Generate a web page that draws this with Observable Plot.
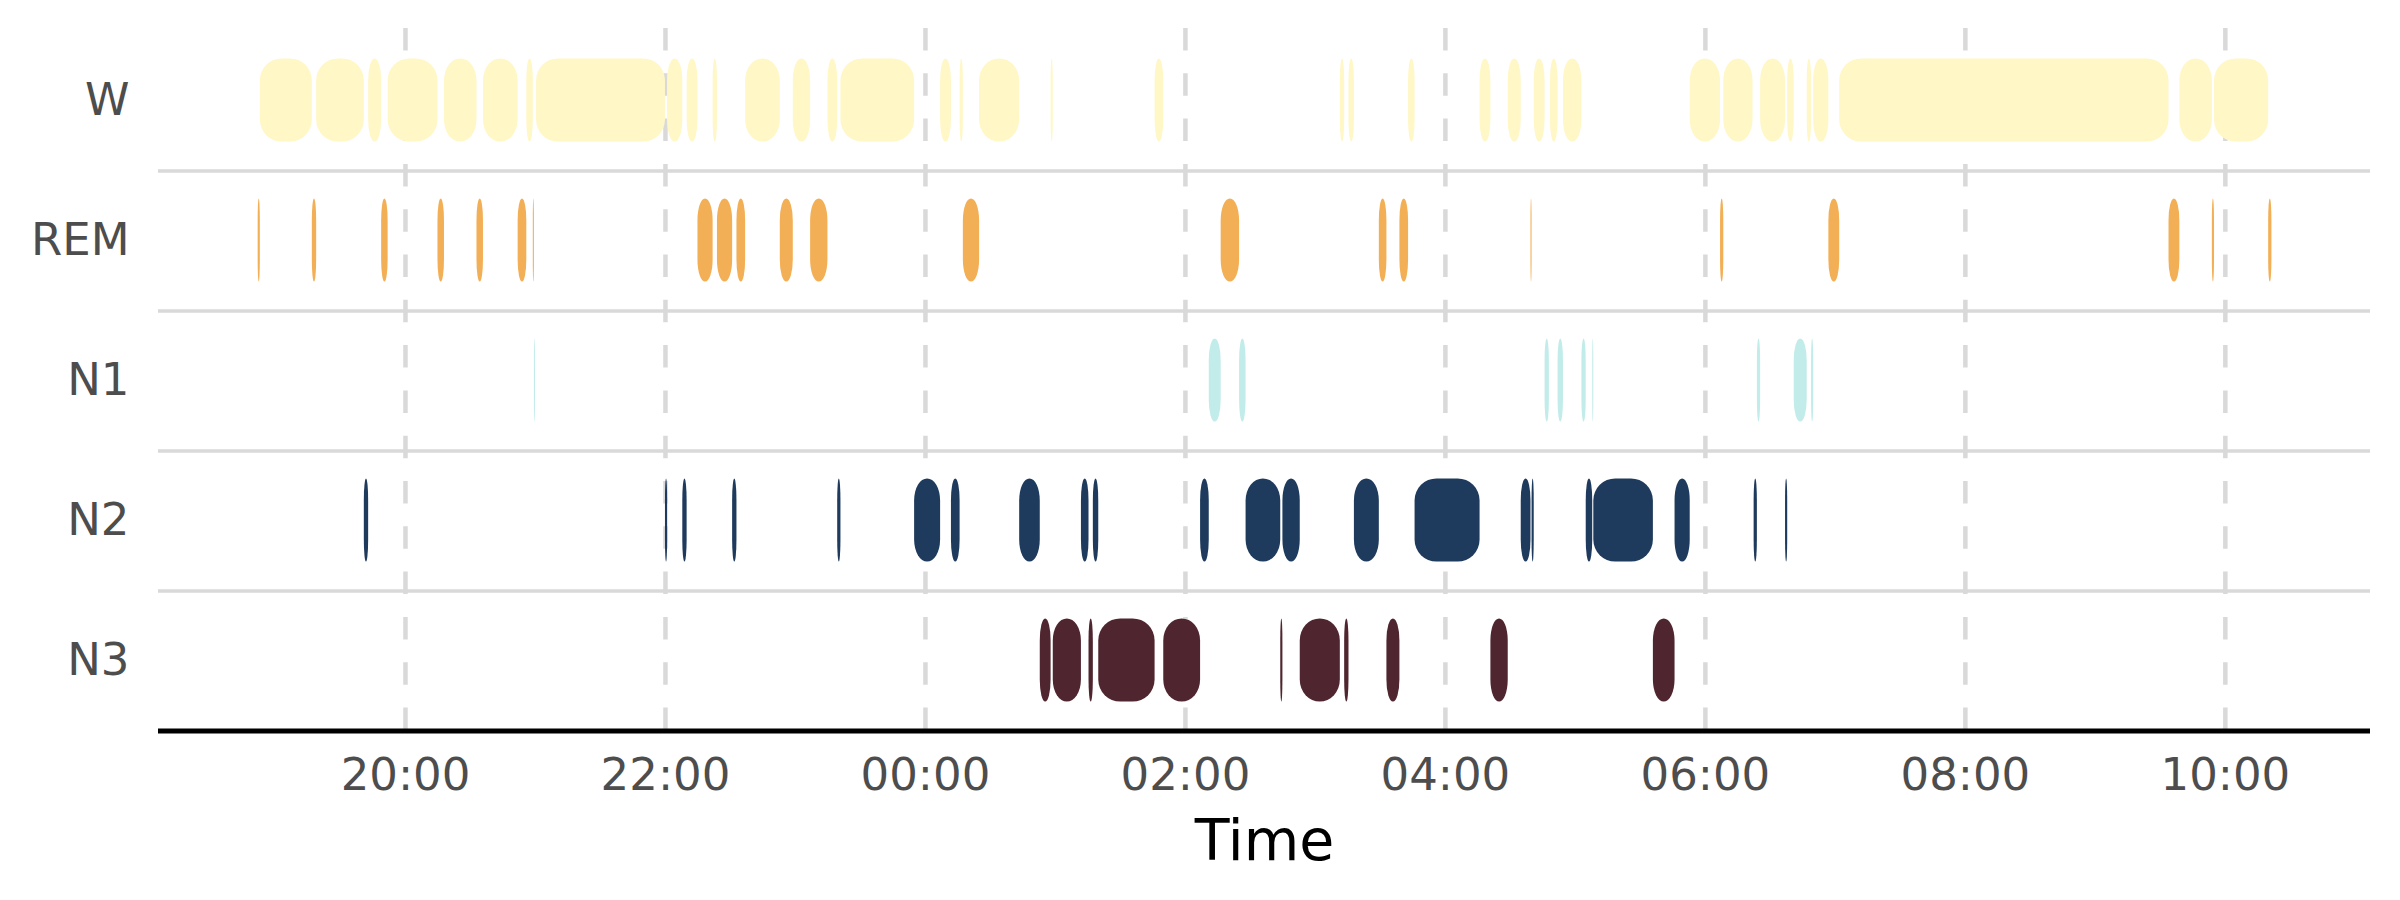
<!DOCTYPE html>
<html>
<head>
<meta charset="utf-8">
<script src="https://cdn.jsdelivr.net/npm/d3@7"></script>
<script src="https://cdn.jsdelivr.net/npm/@observablehq/plot@0.6"></script>
<style>
  html, body { margin: 0; padding: 0; background: #fff; }
  #chart { width: 2400px; height: 900px; }
</style>
</head>
<body>
<div id="chart"></div>
<script>
// Stage categories (top to bottom) and colours
const stages = ["W", "REM", "N1", "N2", "N3"];
const stageColors = ["#FFF7C6", "#F3AF55", "#C2ECE9", "#1E3A5C", "#4F262F"];

// Time ticks
const tickLabels = ["20:00", "22:00", "00:00", "02:00", "04:00", "06:00", "08:00", "10:00"];
const domainLabels = ["18:06", "11:07"];

// Segments per stage: [start, end] clock times (evening -> next morning)
const W = [
  ["18:53","19:17"],["19:19","19:41"],["19:43","19:49"],["19:52","20:15"],["20:18","20:33"],
  ["20:36","20:52"],["20:56","20:59"],["21:00:30","22:00"],["22:01","22:08"],["22:10","22:15"],
  ["22:22","22:24"],["22:37","22:53"],["22:59","23:07"],["23:15","23:19:30"],["23:21","23:55"],
  ["00:07","00:12"],["00:16","00:17:30"],["00:25","00:43:30"],["00:58","00:59"],["01:46","01:50"],
  ["03:11:30","03:13:30"],["03:15:30","03:18"],["03:43","03:46"],["04:16","04:21"],["04:29","04:35"],
  ["04:41","04:46"],["04:48:30","04:52"],["04:54:30","05:03"],["05:53","06:07"],["06:08:30","06:22"],
  ["06:25:30","06:37"],["06:38","06:41"],["06:47","06:49"],["06:50","06:57"],["07:02","09:34"],
  ["09:39","09:54"],["09:55","10:20"]
];
const REM = [
  ["18:52","18:53"],["19:17","19:19"],["19:49","19:52"],["20:15","20:18"],["20:33","20:36"],
  ["20:52","20:56"],["20:59","20:59:30"],["22:15","22:22"],["22:24","22:31"],["22:33","22:37"],
  ["22:53","22:59"],["23:07","23:15"],["00:17:30","00:25"],["02:16:30","02:25"],["03:29:30","03:33"],
  ["03:39","03:43"],["04:39:30","04:40"],["06:07","06:08:30"],["06:57","07:02"],["09:34","09:39"],
  ["09:54","09:55"],["10:20","10:21:30"]
];
const N1 = [
  ["20:59:30","21:00:00"],["02:11","02:16:30"],["02:25","02:28"],["04:46","04:48"],["04:52","04:54:30"],
  ["05:03","05:05"],["05:08","05:08:30"],["06:24","06:25:30"],["06:41","06:47"],["06:49","06:50"]
];
const N2 = [
  ["19:41","19:43"],["22:00","22:01"],["22:08","22:10"],["22:31","22:33"],["23:19:30","23:21"],
  ["23:55","00:07"],["00:12","00:16"],["00:43:30","00:53"],["01:12","01:15:30"],["01:17:30","01:20"],
  ["02:07","02:11"],["02:28","02:44"],["02:45","02:53"],["03:18","03:29:30"],["03:46","04:16"],
  ["04:35","04:39:30"],["04:40","04:41"],["05:05","05:08"],["05:08:30","05:36"],["05:46","05:53"],
  ["06:22:30","06:24"],["06:37","06:38"]
];
const N3 = [
  ["00:53","00:58"],["00:59","01:12"],["01:15:30","01:17:30"],["01:20","01:46"],["01:50","02:07"],
  ["02:44","02:45"],["02:53","03:11:30"],["03:13:30","03:15:30"],["03:33","03:39"],["04:21","04:29"],
  ["05:36","05:46"]
];

// Convert a clock string to a UTC Date on the night of 1->2 Jan
function toDate(s) {
  const [h, m, sec] = s.split(":").map(Number);
  const day = h < 12 ? 2 : 1;
  return new Date(Date.UTC(2024, 0, day, h, m, sec || 0));
}

const segSets = { W, REM, N1, N2, N3 };
const segments = [];
for (const st of stages) {
  for (const [a, b] of segSets[st]) {
    segments.push({ stage: st, start: toDate(a), end: toDate(b) });
  }
}
const ticks = tickLabels.map(toDate);

const W_ = 2400, H_ = 900;
const mTop = 28, mBottom = 168, mLeft = 158, mRight = 30;
const band = (H_ - mTop - mBottom) / stages.length;
const barH = 84;
const inset = (band - barH) / 2;

const chart = Plot.plot({
  width: W_,
  height: H_,
  marginTop: mTop,
  marginBottom: mBottom,
  marginLeft: mLeft,
  marginRight: mRight,
  style: { fontFamily: "DejaVu Sans", background: "#ffffff", overflow: "visible" },
  x: { type: "utc", domain: domainLabels.map(toDate) },
  y: { type: "band", domain: stages, padding: 0 },
  color: { domain: stages, range: stageColors },
  marks: [
    // horizontal separators between rows
    Plot.ruleY(["W", "REM", "N1", "N2"], { y: d => d, dy: band / 2, stroke: "#d9d9d9", strokeWidth: 3.5 }),
    // dashed vertical gridlines
    Plot.ruleX(ticks, { stroke: "#d9d9d9", strokeWidth: 4.5, strokeDasharray: "22.5,22.8" }),
    // stage segments
    Plot.barX(segments, {
      x1: "start", x2: "end", y: "stage", fill: "stage",
      insetTop: inset, insetBottom: inset, rx: 22, ry: 22
    }),
    // bottom axis line
    Plot.ruleY([0], { y: () => "N3", dy: band / 2, stroke: "#000", strokeWidth: 5 }),
    Plot.axisY({ tickSize: 0, tickPadding: 29, fontSize: 45, color: "#4d4d4d", label: null }),
    Plot.axisX({ ticks, tickFormat: d3.utcFormat("%H:%M"), tickSize: 0, tickPadding: 26,
                 fontSize: 45, color: "#4d4d4d", label: null }),
    Plot.text(["Time"], { frameAnchor: "bottom", lineAnchor: "bottom", dy: 127, fontSize: 57, fill: "#000" })
  ]
});
document.getElementById("chart").appendChild(chart);
</script>
</body>
</html>
